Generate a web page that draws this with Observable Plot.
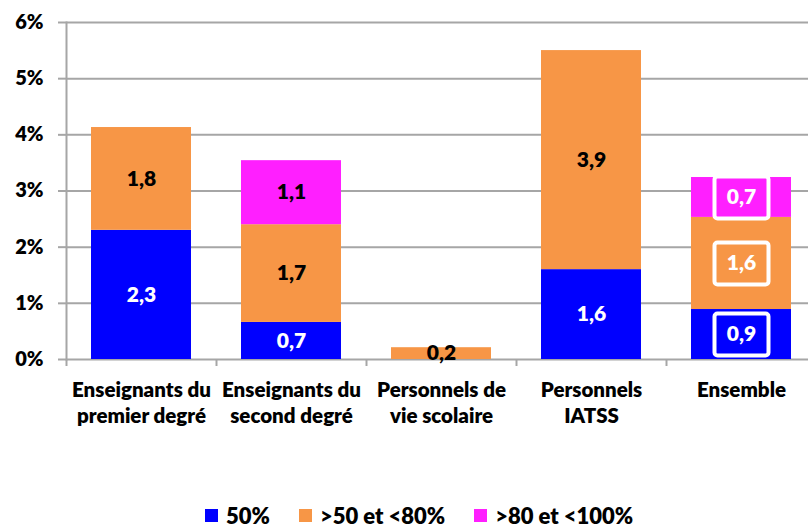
<!DOCTYPE html>
<html>
<head>
<meta charset="utf-8">
<script src="https://cdn.jsdelivr.net/npm/d3@7"></script>
<script src="https://cdn.jsdelivr.net/npm/@observablehq/plot@0.6"></script>
<style>
  html, body { margin: 0; padding: 0; background: #fff; }
  #wrap { position: relative; width: 808px; height: 529px; overflow: hidden; font-family: Lato, "Open Sans", sans-serif; }
  #legend { position: absolute; top: 502px; left: 205px; display: flex; gap: 29px; align-items: center;
            font-family: Lato, sans-serif; font-weight: 800; font-size: 22px; color: #000; }
  .item { display: flex; align-items: center; gap: 8px; }
  .sw { width: 13px; height: 13px; display: inline-block; }
</style>
</head>
<body>
<div id="wrap"><div id="chart"></div><div id="legend"></div></div>
<script>
const categories = ["Enseignants du\npremier degré", "Enseignants du\nsecond degré", "Personnels de\nvie scolaire", "Personnels\nIATSS", "Ensemble"];
const series = ["50%", ">50 et <80%", ">80 et <100%"];
const colors = ["#0000FF", "#F79646", "#FF1FFF"];
const v50 = [2.30, 0.66, 0, 1.60, 0.89];
const v50to80 = [1.83, 1.74, 0.21, 3.90, 1.64];
const v80to100 = [0, 1.14, 0, 0, 0.71];
const yTicks = [0, 1, 2, 3, 4, 5, 6];

const values = [v50, v50to80, v80to100];
const data = [];
categories.forEach((c, i) => series.forEach((s, j) => data.push({cat: c, series: s, value: values[j][i]})));
const shown = data.filter(d => d.value > 0);
const fmt = v => v.toFixed(1).replace(".", ",");
const isEnsemble = d => d.cat === "Ensemble";

// rounded rectangle symbol for the boxed labels
const boxSymbol = {
  draw(ctx) {
    const w = 27, h = 21, r = 3;
    ctx.moveTo(-w + r, -h);
    ctx.arcTo(w, -h, w, h, r);
    ctx.arcTo(w, h, -w, h, r);
    ctx.arcTo(-w, h, -w, -h, r);
    ctx.arcTo(-w, -h, w, -h, r);
    ctx.closePath();
  }
};

const grey = "#A6A6A6";
const chart = Plot.plot({
  width: 808,
  height: 470,
  marginTop: 22,
  marginLeft: 66,
  marginRight: -8,
  marginBottom: 111,
  style: {fontFamily: "Lato, sans-serif", fontWeight: "800", color: "#000", background: "#fff"},
  x: {domain: categories, padding: 0, axis: null},
  y: {domain: [0, 6], axis: null},
  color: {domain: series, range: colors},
  marks: [
    Plot.gridY(yTicks, {stroke: grey, strokeOpacity: 1, strokeWidth: 2}),
    Plot.axisY(yTicks, {tickSize: 8, tickPadding: 15, tickFormat: d => d + "%", fontSize: 20, fontWeight: 800, stroke: grey, strokeWidth: 2, strokeOpacity: 1, label: null}),
    Plot.frame({anchor: "left", stroke: grey, strokeWidth: 2}),
    Plot.axisX(categories, {tickSize: 7, text: null, dx: -75, stroke: grey, strokeWidth: 2, strokeOpacity: 1, label: null, anchor: "bottom"}),
    Plot.barY(shown, Plot.stackY({x: "cat", y: "value", fill: "series", insetLeft: 25, insetRight: 25})),
    Plot.dot(shown.filter(isEnsemble), Plot.stackY({x: "cat", y: "value", fill: "series", symbol: boxSymbol, r: 10, stroke: "white", strokeWidth: 4})),
    Plot.text(shown, Plot.stackY({x: "cat", y: "value", text: d => fmt(d.value), fill: d => (d.series === "50%" || isEnsemble(d)) ? "white" : "black", fontSize: 21, fontWeight: 800})),
    Plot.text(categories, {x: d => d, frameAnchor: "bottom", dy: 19, lineAnchor: "top", lineHeight: 1.28, fontSize: 20.5, fontWeight: 800, fill: "black"})
  ]
});
document.getElementById("chart").appendChild(chart);

const legend = document.getElementById("legend");
series.forEach((s, j) => {
  const item = document.createElement("div");
  item.className = "item";
  const sw = document.createElement("span");
  sw.className = "sw";
  sw.style.background = colors[j];
  const t = document.createElement("span");
  t.textContent = s;
  item.appendChild(sw);
  item.appendChild(t);
  legend.appendChild(item);
});
</script>
</body>
</html>
